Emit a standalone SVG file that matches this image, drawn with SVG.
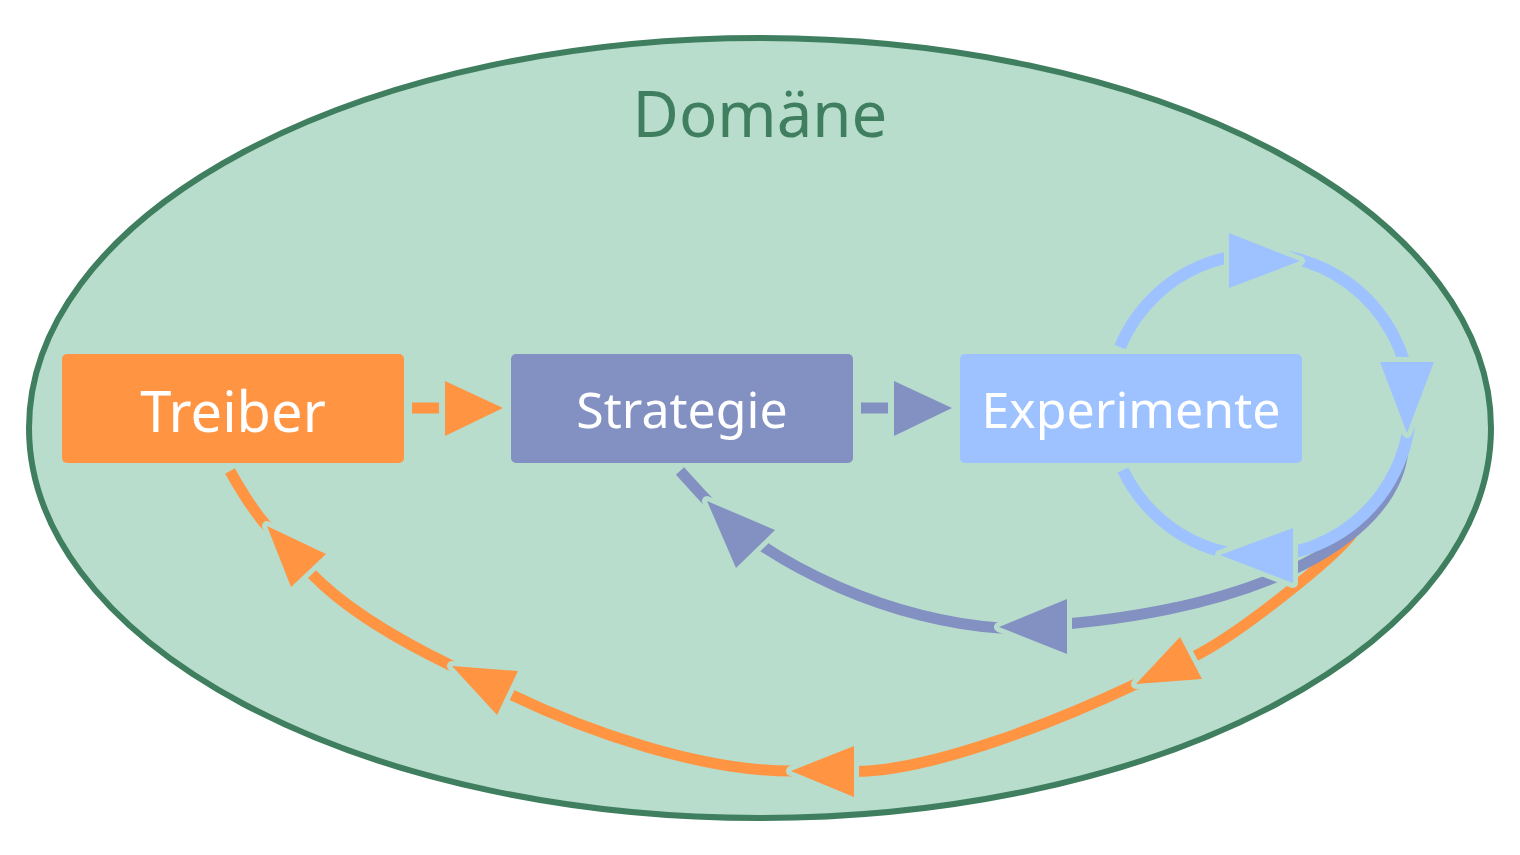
<svg xmlns="http://www.w3.org/2000/svg" width="1520" height="855" viewBox="0 0 1520 855">
<defs>
<style>
.node-text{font-family:"Noto Sans","Open Sans","Liberation Sans",sans-serif;fill:#ffffff;text-anchor:middle;}
.line{fill:none;stroke-linecap:butt;}
.o{stroke:#ff9442;stroke-width:11;}
.p{stroke:#8391c2;stroke-width:11;}
.b{stroke:#9dc2ff;stroke-width:12;}
.head{stroke:#b8ddcc;stroke-width:10;stroke-linejoin:round;paint-order:stroke;}
.ho{fill:#ff9442;}
.hp{fill:#8391c2;}
.hb{fill:#9dc2ff;}
</style>
</defs>
<rect width="1520" height="855" fill="#ffffff"/>
<g id="domain">
<ellipse cx="760" cy="428" rx="731" ry="390" fill="#b8ddcc" stroke="#3f7f5f" stroke-width="6"/>
<text x="760" y="137" font-family="Noto Sans, Open Sans, Liberation Sans, sans-serif" font-size="63.5" fill="#3f7f5f" text-anchor="middle">Domäne</text>
</g>
<g id="connectors">
<!-- Treiber -> Strategie -->
<line class="line o" x1="412" y1="408" x2="439" y2="408"/>
<polygon class="head ho" points="445,381 445,436 503,408"/>
<!-- Strategie -> Experimente -->
<line class="line p" x1="861" y1="408" x2="888" y2="408"/>
<polygon class="head hp" points="894,381 894,436 952,408"/>
<!-- Experimente -> Treiber (orange) -->
<path class="line o" d="M 1352 534 C 1332 560 1236 636.6 1191 658 L 1136 684 C 1063.7 718.2 934 771.5 854 771.5 L 791 771 C 701 771 588.4 732.3 507.5 693 L 452 666 C 402.6 642 346 610.7 308.5 570.5 L 267 526 C 253.4 511.4 236 482 230 471"/>
<polygon class="head ho" points="1180,637 1202,679 1136,684"/>
<polygon class="head ho" points="854,746 854,797 791,771"/>
<polygon class="head ho" points="518,671 497,715 452,666"/>
<polygon class="head ho" points="326,554 291,587 267,526"/>
<!-- Experimente -> Strategie (purple) -->
<path class="line p" d="M 1403 450 C 1395 540 1250 620 1000 628 C 900 622 770 570 700 493 L 680 471"/>
<polygon class="head hp" points="1067,599 1067,654 999,627"/>
<polygon class="head hp" points="775,530 736,568 707,501"/>
<!-- Experimente self loop (blue) -->
<path class="line b" d="M 1120 347 A 151 151 0 1 1 1123 470"/>
<polygon class="head hb" points="1229,233 1229,288 1300,261"/>
<polygon class="head hb" points="1380,362 1434,362 1407,433"/>
<polygon class="head hb" points="1293,528 1293,583 1220,555"/>
</g>
<g id="treiber">
<rect x="62" y="354" width="342" height="109" rx="5" fill="#ff9442"/>
<text class="node-text" x="233" y="432" font-size="56">Treiber</text>
</g>
<g id="strategie">
<rect x="511" y="354" width="342" height="109" rx="5" fill="#8391c2"/>
<text class="node-text" x="682" y="428" font-size="50">Strategie</text>
</g>
<g id="experimente">
<rect x="960" y="354" width="342" height="109" rx="5" fill="#9dc2ff"/>
<text class="node-text" x="1131" y="428" font-size="50">Experimente</text>
</g>
</svg>
